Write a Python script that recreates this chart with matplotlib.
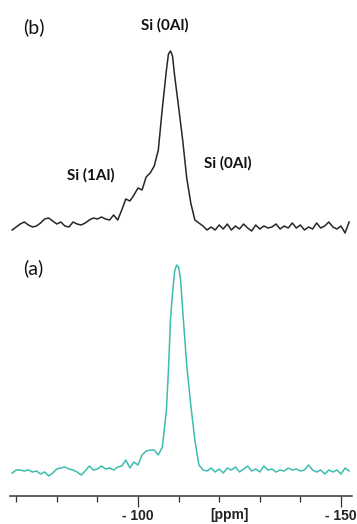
import numpy as np
import matplotlib.pyplot as plt
from matplotlib.ticker import FixedLocator

# chemical shift, ppm
ppm_b = [-69, -70, -71, -72, -73, -74, -75, -76, -77, -78, -79, -80, -81, -82,
         -83, -84, -85, -86, -87, -88, -89, -90, -91, -92, -93, -94, -95, -96,
         -97, -98, -99, -100, -101, -102, -103, -104, -105, -106, -107, -107.5,
         -108, -108.5, -109, -110, -111, -112, -113, -114, -115, -116, -117,
         -118, -119, -120, -121, -122, -123, -124, -125, -126, -127, -128, -129,
         -130, -131, -132, -133, -134, -135, -136, -137, -138, -139, -140, -141,
         -142, -143, -144, -145, -146, -147, -148, -149, -150, -151, -152]
int_b = [2, 5, 8, 10, 7, 5, 6, 9, 13, 14, 11, 8, 10, 6,
         5, 10, 8, 7, 9, 12, 14, 13, 15, 13, 12, 17, 12, 22,
         33, 31, 37, 44, 42, 55, 59, 66, 82, 124, 162, 178,
         181, 176, 157, 125, 92, 54, 29, 12, 9, 6, 2,
         5, 2, 7, 3, 8, 2, 6, 3, 8, 4, 1, 7,
         3, 6, 4, 5, 8, 3, 6, 4, 9, 4, 7, 2,
         5, 3, 9, 4, 6, 10, 5, 3, 6, -1, 10]

ppm_a = [-69, -70, -71, -72, -73, -74, -75, -76, -77, -78, -79, -80, -81, -82,
         -83, -84, -85, -86, -87, -88, -89, -90, -91, -92, -93, -94, -95, -96,
         -97, -98, -99, -100, -101, -102, -103, -104, -105, -106, -107, -107.5,
         -108, -108.5, -109, -109.5, -110, -110.5, -111, -112, -113, -114, -115,
         -116, -117, -118, -119, -120, -121, -122, -123, -124, -125, -126, -127,
         -128, -129, -130, -131, -132, -133, -134, -135, -136, -137, -138, -139,
         -140, -141, -142, -143, -144, -145, -146, -147, -148, -149, -150, -151, -152]
int_a = [1, 4, 4, 3, 4, 2, 3, 0, 2, -2, 1, 5, 6, 7,
         5, 4, 2, -1, 3, 8, 4, 5, 8, 5, 6, 4, 7, 8,
         14, 6, 12, 9, 19, 23, 24, 24, 19, 27, 64, 104,
         154, 181, 202, 209, 207, 194, 164, 109, 69, 34, 9,
         4, 3, 6, 2, 5, 1, 6, 4, 7, 2, 5, 8,
         3, 5, 2, 8, 4, 5, 2, 4, 3, 6, 4, 5,
         3, 4, 9, 4, 2, 4, 0, 4, 2, 4, 0, 6, 3]

offset_b = 264
offset_a = 22

fig = plt.figure(figsize=(3.57, 5.24), dpi=100)
ax = fig.add_axes([10 / 357, 28 / 524, 342 / 357, 496 / 524])

ax.plot(ppm_b, np.array(int_b) + offset_b, color="#262626", lw=1.1)
ax.plot(ppm_a, np.array(int_a) + offset_a, color="#3dbdae", lw=1.1)

ax.set_xlim(-68.47, -152.71)
ax.set_ylim(0, 496)

for s in ["top", "left", "right"]:
    ax.spines[s].set_visible(False)
ax.spines["bottom"].set_color("#333333")
ax.spines["bottom"].set_linewidth(1.1)
ax.set_yticks([])

ax.xaxis.set_major_locator(FixedLocator([-100, -150]))
ax.xaxis.set_minor_locator(FixedLocator([-70, -80, -90, -110, -120, -130, -140]))
ax.set_xticklabels(["- 100", "- 150"], fontfamily="Liberation Sans",
                   fontweight="bold", fontsize=10, color="#222222")
ax.tick_params(axis="x", which="major", length=8, width=0.9, color="#333333", pad=1.5)
ax.tick_params(axis="x", which="minor", length=4.5, width=0.9, color="#333333")

ax.text(-122.4, -0.039, "[ppm]", transform=ax.get_xaxis_transform(),
        ha="center", va="center", fontfamily="Liberation Sans",
        fontweight="bold", fontsize=10, color="#222222")

lab = dict(fontfamily="Lato", color="#111111", ha="center", va="center")
ax.text(-74.4, 469, "(b)", fontsize=14, **lab)
ax.text(-74.1, 228, "(a)", fontsize=14, **lab)
ax.text(-106.7, 471, "Si (0Al)", fontsize=11, fontweight="bold", **lab)
ax.text(-88.4, 321, "Si (1Al)", fontsize=11, fontweight="bold", **lab)
ax.text(-122.2, 333, "Si (0Al)", fontsize=11, fontweight="bold", **lab)

fig.savefig("out.png", dpi=100)
